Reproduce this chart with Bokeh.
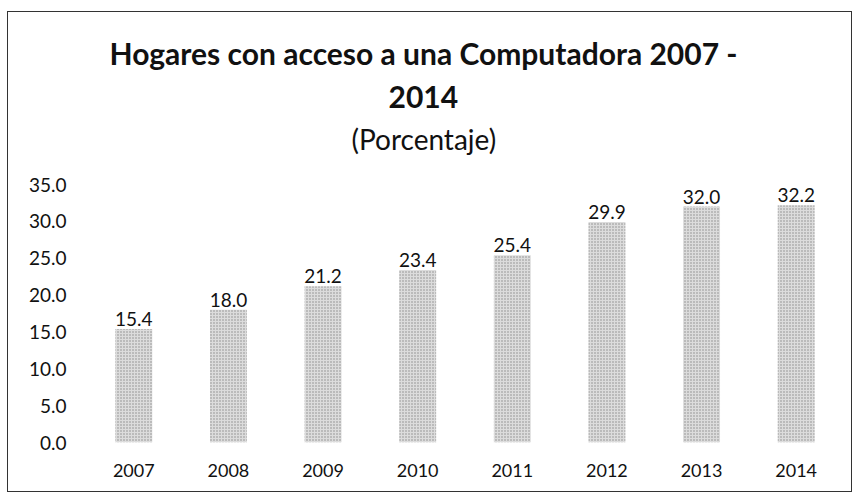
from bokeh.plotting import figure
from bokeh.models import (ColumnDataSource, FactorRange, Range1d, FixedTicker,
                          NumeralTickFormatter, Title, Spacer)
from bokeh.layouts import column, row
from bokeh.core.properties import value
from bokeh.embed import file_html
from bokeh.resources import INLINE

years = ["2007", "2008", "2009", "2010", "2011", "2012", "2013", "2014"]
pct = [15.4, 18.0, 21.2, 23.4, 25.4, 29.9, 32.0, 32.2]
labels = ["15.4", "18.0", "21.2", "23.4", "25.4", "29.9", "32.0", "32.2"]
y_ticks = [0, 5, 10, 15, 20, 25, 30, 35]

FONT = "Lato"

src = ColumnDataSource(dict(x=years, y=pct, lab=labels))

p = figure(width=843, height=479, x_range=FactorRange(factors=years),
           y_range=Range1d(0, 35), output_backend="svg", toolbar_location=None,
           min_border_left=78, min_border_right=8, min_border_top=172,
           min_border_bottom=49)

p.vbar(x="x", top="y", width=0.39, source=src, fill_color="#dcdcdc",
       line_color=None, hatch_pattern="dot", hatch_color="#8a8a8a",
       hatch_scale=3, hatch_weight=1)

p.text(x="x", y="y", text="lab", source=src, text_align="center",
       text_baseline="bottom", y_offset=-3, text_font=value(FONT),
       text_font_size="19px", text_color="#111111")

# spacer between frame and subtitle
p.add_layout(Title(text=" ", text_font_size="1px", standoff=26), "above")
p.add_layout(Title(text="(Porcentaje)", align="left", offset=265,
                   text_font=FONT, text_font_size="28px",
                   text_font_style="normal", text_color="#111111", standoff=0), "above")
p.add_layout(Title(text="2014", align="left", offset=302,
                   text_font=FONT, text_font_size="30px",
                   text_font_style="bold", text_color="#111111", standoff=24), "above")
p.add_layout(Title(text="Hogares con acceso a una Computadora 2007 -", align="left",
                   offset=23, text_font=FONT, text_font_size="30px",
                   text_font_style="bold", text_color="#111111", standoff=1), "above")

p.xaxis.axis_line_color = None
p.xaxis.major_tick_line_color = None
p.xaxis.minor_tick_line_color = None
p.xaxis.major_label_standoff = 15
p.xaxis.major_label_text_font = FONT
p.xaxis.major_label_text_font_size = "18px"
p.xaxis.major_label_text_color = "#111111"

p.yaxis.ticker = FixedTicker(ticks=y_ticks)
p.yaxis.formatter = NumeralTickFormatter(format="0.0")
p.yaxis.axis_line_color = None
p.yaxis.major_tick_line_color = None
p.yaxis.minor_tick_line_color = None
p.yaxis.major_label_standoff = 14
p.yaxis.major_label_text_font = FONT
p.yaxis.major_label_text_font_size = "19px"
p.yaxis.major_label_text_color = "#111111"

p.xgrid.grid_line_color = None
p.ygrid.grid_line_color = None
p.outline_line_color = None
p.styles = {"outline": "1.5px solid #333333"}

layout = column(Spacer(height=12), row(Spacer(width=8), p))

open("out.html", "w").write(file_html(layout, INLINE))
